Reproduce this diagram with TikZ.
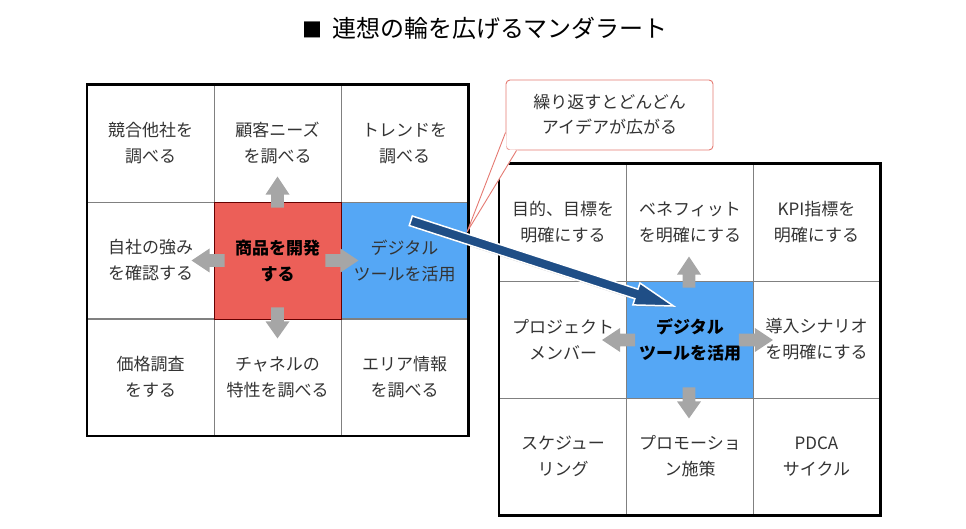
\documentclass[tikz,border=0pt]{standalone}
\usepackage{fontspec}
\setmainfont{Noto Sans CJK JP}
\usetikzlibrary{calc,shadows}
\definecolor{cellred}{HTML}{EC5F58}
\definecolor{cellblue}{HTML}{55A7F5}
\definecolor{gridgray}{HTML}{808080}
\definecolor{arrgray}{HTML}{A6A6A6}
\definecolor{arrblue}{HTML}{1F4E86}
\definecolor{txt}{HTML}{333333}
\definecolor{callred}{HTML}{E57A72}
\newcommand{\blkarrow}[6]{%
  \coordinate (bh) at ($(#2)!#5!(#1)$);
  \path[#6] ($(#1)!#3!90:(#2)$) -- ($(bh)!#3!90:(#2)$) -- ($(bh)!#4!90:(#2)$) -- (#2)
    -- ($(bh)!#4!-90:(#2)$) -- ($(bh)!#3!-90:(#2)$) -- ($(#1)!#3!-90:(#2)$) -- cycle;}
\tikzset{
  cell/.style={draw=gridgray, line width=0.8pt, minimum width=127pt, minimum height=117pt,
    align=center, inner sep=0pt, text=txt, font=\fontsize{17}{26}\selectfont},
  hubred/.style={cell, fill=cellred, draw=black!60!red, font=\fontsize{17}{26}\selectfont\bfseries, text=black},
  hubblue/.style={cell, fill=cellblue},
  hubbold/.style={hubblue, font=\fontsize{17}{26}\selectfont\bfseries, text=black},
  frame/.style={draw=black, line width=2.2pt},
  grayarrow/.style={fill=arrgray},
  bigarrow/.style={fill=arrblue, draw=white, line width=1.5pt, line join=miter,
    drop shadow={shadow xshift=1.5pt, shadow yshift=-1.5pt, opacity=0.35}},
  callout/.style={draw=callred, line width=0.9pt},
}
\begin{document}
\begin{tikzpicture}[x=1pt,y=-1pt]
\useasboundingbox (0,0) rectangle (966,529);
% title
\node[font=\fontsize{24}{28}\selectfont, text=black] (title) at (485,28) {{\fontsize{20}{28}\selectfont ■}\, 連想の輪を広げるマンダラート};
% left grid
\node[cell] (L1) at (150.5,143.5) {競合他社を\\調べる};
\node[cell] (L2) at (277.5,143.5) {顧客ニーズ\\を調べる};
\node[cell] (L3) at (404.5,143.5) {トレンドを\\調べる};
\node[cell] (L4) at (150.5,260.5) {自社の強み\\を確認する};
\node[hubblue] (L6) at (404.5,260.5) {デジタル\\ツールを活用};
\node[cell] (L7) at (150.5,377) {価格調査\\をする};
\node[cell] (L8) at (277.5,377) {チャネルの\\特性を調べる};
\node[cell] (L9) at (404.5,377) {エリア情報\\を調べる};
\node[hubred] (L5) at (277.5,260.5) {商品を開発\\する};
\draw[frame] (L1.north west) rectangle (L9.south east);
% left gray arrows
\coordinate (la1) at ($(L5.north)+(0,6)$);  \coordinate (lb1) at ($(L5.north)+(0,-25)$);
\coordinate (la2) at ($(L5.south)+(0,-12)$); \coordinate (lb2) at ($(L5.south)+(0,19)$);
\coordinate (la3) at ($(L5.west)+(11,0)$);  \coordinate (lb3) at ($(L5.west)+(-22,0)$);
\coordinate (la4) at ($(L5.east)+(-16,0)$); \coordinate (lb4) at ($(L5.east)+(17,0)$);
\blkarrow{la1}{lb1}{6.3pt}{12pt}{18pt}{grayarrow}
\blkarrow{la2}{lb2}{6.3pt}{12pt}{17pt}{grayarrow}
\blkarrow{la3}{lb3}{6.3pt}{12pt}{18pt}{grayarrow}
\blkarrow{la4}{lb4}{6.3pt}{12pt}{18pt}{grayarrow}
% right grid
\node[cell] (R1) at (563,222.5) {目的、目標を\\明確にする};
\node[cell] (R2) at (690,222.5) {ベネフィット\\を明確にする};
\node[cell] (R3) at (816.5,222.5) {KPI指標を\\明確にする};
\node[cell] (R4) at (563,339.5) {プロジェクト\\メンバー};
\node[cell] (R6) at (816.5,339.5) {導入シナリオ\\を明確にする};
\node[cell] (R7) at (563,456.5) {スケジュー\\リング};
\node[cell] (R8) at (690,456.5) {プロモーショ\\ン施策};
\node[cell] (R9) at (816.5,456.5) {PDCA\\サイクル};
\node[hubbold] (R5) at (690,339.5) {デジタル\\ツールを活用};
\draw[frame] (R1.north west) rectangle (R9.south east);
% right gray arrows
\coordinate (ra1) at ($(R5.north)+(-1,7)$);  \coordinate (rb1) at ($(R5.north)+(-1,-24)$);
\coordinate (ra2) at ($(R5.south)+(-1,-11)$); \coordinate (rb2) at ($(R5.south)+(-1,20)$);
\coordinate (ra3) at ($(R5.west)+(9,0.5)$);  \coordinate (rb3) at ($(R5.west)+(-24,0.5)$);
\coordinate (ra4) at ($(R5.east)+(-15,0.5)$); \coordinate (rb4) at ($(R5.east)+(19,0.5)$);
\blkarrow{ra1}{rb1}{6.3pt}{12pt}{18pt}{grayarrow}
\blkarrow{ra2}{rb2}{6.3pt}{12pt}{17pt}{grayarrow}
\blkarrow{ra3}{rb3}{6.3pt}{12pt}{18pt}{grayarrow}
\blkarrow{ra4}{rb4}{6.3pt}{12pt}{18pt}{grayarrow}
% callout
\node[callout, fill=white, rounded corners=4pt, minimum width=207pt, minimum height=70pt,
  inner sep=0pt, align=center, text=txt, font=\fontsize{17}{25}\selectfont] (co) at (609.5,115)
  {繰り返すとどんどん\\アイデアが広がる};
\coordinate (cp1) at ($(co.south west)+(0,-18)$);
\coordinate (cp2) at ($(co.south west)+(11,0)$);
\coordinate (ctip) at (467,232);
\fill[white] ($(cp1)+(0.6,-1)$) -- (ctip) -- ($(cp2)+(1,-0.6)$) -- ($(co.south west)+(1,-1)$) -- cycle;
\draw[callout] (cp1) -- (ctip) -- (cp2);
% big arrow from left hub cell to right hub cell
\coordinate (bs) at ($(L6.center)+(6.3,-39.7)$);
\coordinate (bt) at ($(R5.center)+(-16.5,-33.5)$);
\blkarrow{bs}{bt}{5pt}{11.5pt}{39pt}{bigarrow}
\end{tikzpicture}
\end{document}
